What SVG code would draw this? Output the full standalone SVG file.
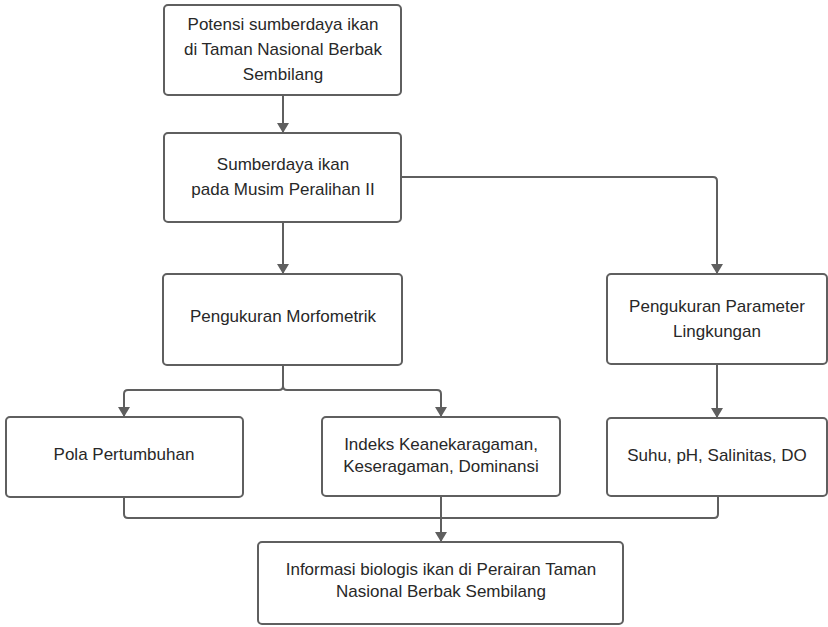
<svg xmlns="http://www.w3.org/2000/svg" width="828" height="627" viewBox="0 0 828 627">
<defs>
<marker id="arr" viewBox="0 0 10 12" refX="10" refY="6" markerWidth="12" markerHeight="12" markerUnits="userSpaceOnUse" orient="auto">
<path d="M0,0 L10,6 L0,12 Z" fill="#5f5f5f"/>
</marker>
<style>
.box{fill:#fff;stroke:#5f5f5f;stroke-width:2}
.t{font-family:"Liberation Sans",Arial,sans-serif;font-size:17px;fill:#282828;text-anchor:middle}
.c{fill:none;stroke:#5f5f5f;stroke-width:2}
</style>
</defs>
<rect width="828" height="627" fill="#fff"/>
<g id="connectors">
<path class="c" d="M283,95 V133" marker-end="url(#arr)"/>
<path class="c" d="M283,222 V274" marker-end="url(#arr)"/>
<path class="c" d="M401,177 H713 Q717,177 717,181 V274" marker-end="url(#arr)"/>
<path class="c" d="M283,365 V386 Q283,390 279,390 H128 Q124,390 124,394 V417" marker-end="url(#arr)"/>
<path class="c" d="M283,386 Q283,390 287,390 H437 Q441,390 441,394 V417" marker-end="url(#arr)"/>
<path class="c" d="M717,364 V418" marker-end="url(#arr)"/>
<path class="c" d="M124,497 V514 Q124,518 128,518 H714 Q718,518 718,514 V496"/>
<path class="c" d="M441,496 V542" marker-end="url(#arr)"/>
</g>
<g id="n1"><rect class="box" x="164" y="5" width="237" height="90" rx="4"/>
<text class="t" x="283" y="30">Potensi sumberdaya ikan</text>
<text class="t" x="283" y="55">di Taman Nasional Berbak</text>
<text class="t" x="283" y="80">Sembilang</text></g>
<g id="n2"><rect class="box" x="164" y="133" width="237" height="89" rx="4"/>
<text class="t" x="283" y="170">Sumberdaya ikan</text>
<text class="t" x="283" y="195">pada Musim Peralihan II</text></g>
<g id="n3"><rect class="box" x="163" y="274" width="239" height="91" rx="4"/>
<text class="t" x="283" y="322">Pengukuran Morfometrik</text></g>
<g id="n4"><rect class="box" x="607" y="274" width="220" height="90" rx="4"/>
<text class="t" x="717" y="312">Pengukuran Parameter</text>
<text class="t" x="717" y="337">Lingkungan</text></g>
<g id="n5"><rect class="box" x="6" y="417" width="237" height="80" rx="4"/>
<text class="t" x="124" y="460">Pola Pertumbuhan</text></g>
<g id="n6"><rect class="box" x="322" y="417" width="238" height="79" rx="4"/>
<text class="t" x="441" y="450">Indeks Keanekaragaman,</text>
<text class="t" x="441" y="472">Keseragaman, Dominansi</text></g>
<g id="n7"><rect class="box" x="607" y="418" width="220" height="78" rx="4"/>
<text class="t" x="717" y="461">Suhu, pH, Salinitas, DO</text></g>
<g id="n8"><rect class="box" x="258" y="542" width="365" height="82" rx="4"/>
<text class="t" x="441" y="575">Informasi biologis ikan di Perairan Taman</text>
<text class="t" x="441" y="597">Nasional Berbak Sembilang</text></g>
</svg>
